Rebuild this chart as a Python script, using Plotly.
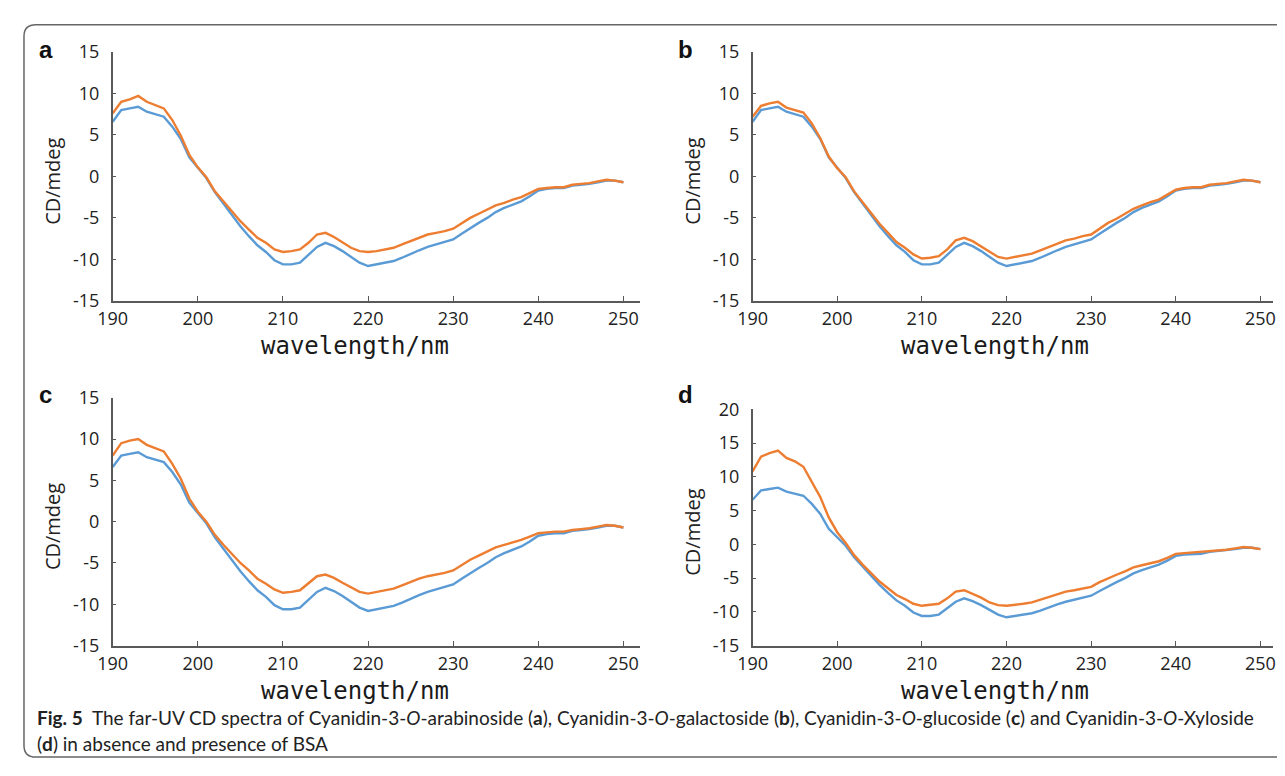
import plotly.graph_objects as go
from plotly.subplots import make_subplots

# wavelength grid (nm)
wavelength = list(range(190, 251))

# BSA alone (blue, identical in all panels)
bsa = [6.6, 8.0, 8.2, 8.4, 7.8, 7.5, 7.2, 6.0, 4.5, 2.3, 1.0, -0.2, -1.9, -3.3, -4.6,
       -6.0, -7.2, -8.3, -9.1, -10.1, -10.6, -10.6, -10.4, -9.5, -8.5, -8.0, -8.4, -9.0, -9.7, -10.4,
       -10.8, -10.6, -10.4, -10.2, -9.8, -9.3, -8.9, -8.5, -8.2, -7.9, -7.6, -6.9, -6.2, -5.6, -5.0,
       -4.3, -3.8, -3.4, -3.0, -2.4, -1.7, -1.5, -1.4, -1.4, -1.1, -1.0, -0.9, -0.7, -0.5, -0.5, -0.7]

# BSA + anthocyanin (orange)
arabinoside = [7.6, 9.0, 9.3, 9.7, 9.0, 8.6, 8.2, 6.8, 4.9, 2.6, 1.1, -0.1, -1.8, -3.0, -4.2,
               -5.4, -6.4, -7.4, -8.0, -8.8, -9.1, -9.0, -8.8, -8.0, -7.0, -6.8, -7.3, -7.9, -8.6, -9.0,
               -9.1, -9.0, -8.8, -8.6, -8.2, -7.8, -7.4, -7.0, -6.8, -6.6, -6.3, -5.6, -5.0, -4.5, -4.0,
               -3.5, -3.2, -2.8, -2.5, -2.0, -1.5, -1.4, -1.3, -1.3, -1.0, -0.9, -0.8, -0.6, -0.4, -0.5, -0.7]
galactoside = [7.2, 8.5, 8.8, 9.0, 8.3, 8.0, 7.7, 6.4, 4.6, 2.4, 1.0, -0.1, -1.8, -3.1, -4.4,
               -5.7, -6.8, -7.9, -8.6, -9.4, -9.9, -9.8, -9.6, -8.8, -7.7, -7.4, -7.8, -8.4, -9.1, -9.7,
               -9.9, -9.7, -9.5, -9.3, -8.9, -8.5, -8.1, -7.7, -7.5, -7.2, -7.0, -6.3, -5.6, -5.1, -4.5,
               -3.9, -3.5, -3.1, -2.8, -2.2, -1.6, -1.4, -1.3, -1.3, -1.0, -0.9, -0.8, -0.6, -0.4, -0.5, -0.7]
glucoside = [8.0, 9.5, 9.8, 10.0, 9.3, 8.9, 8.5, 7.0, 5.2, 2.8, 1.2, 0.0, -1.6, -2.8, -3.9,
             -5.0, -5.9, -6.9, -7.5, -8.2, -8.6, -8.5, -8.3, -7.5, -6.6, -6.4, -6.8, -7.4, -8.0, -8.5,
             -8.7, -8.5, -8.3, -8.1, -7.7, -7.3, -6.9, -6.6, -6.4, -6.2, -5.9, -5.2, -4.6, -4.1, -3.6,
             -3.1, -2.8, -2.5, -2.2, -1.8, -1.4, -1.3, -1.2, -1.2, -1.0, -0.9, -0.8, -0.6, -0.4, -0.5, -0.7]
xyloside = [10.8, 13.0, 13.5, 13.9, 12.8, 12.3, 11.5, 9.2, 7.0, 4.0, 1.8, 0.2, -1.6, -3.0, -4.3,
            -5.5, -6.5, -7.5, -8.1, -8.8, -9.1, -9.0, -8.8, -8.0, -7.0, -6.8, -7.3, -7.9, -8.6, -9.0,
            -9.1, -9.0, -8.8, -8.6, -8.2, -7.8, -7.4, -7.0, -6.8, -6.6, -6.3, -5.6, -5.0, -4.5, -4.0,
            -3.4, -3.1, -2.8, -2.5, -2.0, -1.4, -1.3, -1.2, -1.2, -1.0, -0.9, -0.8, -0.6, -0.4, -0.5, -0.7]

panel_labels = ["a", "b", "c", "d"]
complexes = [arabinoside, galactoside, glucoside, xyloside]
x_ticks = [190, 200, 210, 220, 230, 240, 250]
y_ticks_15 = [-15, -10, -5, 0, 5, 10, 15]
y_ticks_20 = [-15, -10, -5, 0, 5, 10, 15, 20]
y_tick_sets = [y_ticks_15, y_ticks_15, y_ticks_15, y_ticks_20]

# the page body has an 8px margin, so the figure is shifted by 8px
OFF = 8
W, H = 1277, 760
BLUE = "#5b9bd5"
ORANGE = "#ed7d31"
AXIS = "#595959"
TICKFONT = dict(family="Open Sans", size=18, color="#222")


def px(x):
    return (x - OFF) / W


def py(y):
    return 1 - (y - OFF) / H


# plot boxes in window pixels: (left, right, top, bottom, x range end, letter y)
boxes = [
    (99, 634, 40, 297, 251.97, 37),
    (748, 1276, 40, 297, 251.5, 37),
    (99, 634, 397, 653, 251.97, 394),
    (748, 1276, 409, 653, 251.5, 394),
]

fig = make_subplots(rows=2, cols=2)

for i, (ys, label) in enumerate(zip(complexes, panel_labels)):
    r, c = i // 2 + 1, i % 2 + 1
    fig.add_trace(go.Scatter(x=wavelength, y=bsa, mode="lines",
                             line=dict(color=BLUE, width=2.4), showlegend=False), row=r, col=c)
    fig.add_trace(go.Scatter(x=wavelength, y=ys, mode="lines",
                             line=dict(color=ORANGE, width=2.4), showlegend=False), row=r, col=c)

    left, right, top, bottom, xend, ly = boxes[i]
    yt = y_tick_sets[i]
    fig.update_xaxes(domain=[px(left), px(right)], range=[190, xend],
                     tickvals=x_ticks, ticktext=[str(v) for v in x_ticks],
                     ticks="inside", ticklen=5, tickcolor=AXIS, ticklabelstandoff=1,
                     showline=True, linecolor=AXIS, linewidth=1.5,
                     showgrid=False, zeroline=False, tickfont=TICKFONT,
                     row=r, col=c)
    fig.update_yaxes(domain=[py(bottom), py(top)], range=[yt[0], yt[-1]],
                     tickvals=yt, ticktext=[str(v) for v in yt],
                     ticks="inside", ticklen=4, tickcolor=AXIS, ticklabelstandoff=8,
                     showline=True, linecolor=AXIS, linewidth=1.5,
                     showgrid=False, zeroline=False, tickfont=TICKFONT,
                     row=r, col=c)

    # panel letter
    fig.add_annotation(x=px(left - 68), y=py(ly), xref="paper", yref="paper",
                       text=f"<b>{label}</b>", showarrow=False, xanchor="center", yanchor="middle",
                       font=dict(family="Liberation Sans", size=24, color="#111"))
    # y title
    fig.add_annotation(x=px(left - 61), y=py((top + bottom) / 2 + 5), xref="paper", yref="paper",
                       text="CD/mdeg", showarrow=False, textangle=-90,
                       xanchor="center", yanchor="middle",
                       font=dict(family="Open Sans", size=20, color="#222"))
    # x title
    fig.add_annotation(x=px(left + 246), y=py(bottom + 47), xref="paper", yref="paper",
                       text="wavelength/nm", showarrow=False, xanchor="center", yanchor="middle",
                       font=dict(family="DejaVu Sans Mono", size=24, color="#1a1a1a"))

# caption
caption_1 = ("<b>Fig. 5</b>  The far-UV CD spectra of Cyanidin-3-<i>O</i>-arabinoside (<b>a</b>), "
             "Cyanidin-3-<i>O</i>-galactoside (<b>b</b>), Cyanidin-3-<i>O</i>-glucoside (<b>c</b>) "
             "and Cyanidin-3-<i>O</i>-Xyloside")
caption_2 = "(<b>d</b>) in absence and presence of BSA"
fig.add_annotation(x=px(20), y=py(727), xref="paper", yref="paper", text=caption_1,
                   showarrow=False, xanchor="left", yanchor="middle",
                   font=dict(family="Lato", size=19, color="#222"))
fig.add_annotation(x=px(20), y=py(754), xref="paper", yref="paper", text=caption_2,
                   showarrow=False, xanchor="left", yanchor="middle",
                   font=dict(family="Lato", size=19, color="#222"))

# rounded frame (cropped at right and bottom)
frame = (f"M {px(1300)},{py(12)} L {px(21)},{py(12)} Q {px(9)},{py(12)} {px(9)},{py(24)} "
         f"L {px(9)},{py(756)} Q {px(9)},{py(768)} {px(21)},{py(768)} L {px(1300)},{py(768)}")
fig.add_shape(type="path", path=frame, xref="paper", yref="paper",
              line=dict(color="#666", width=1.5))

fig.update_layout(width=W, height=H, margin=dict(l=0, r=0, t=0, b=0),
                  plot_bgcolor="white", paper_bgcolor="white")

fig.write_html("out.html")
